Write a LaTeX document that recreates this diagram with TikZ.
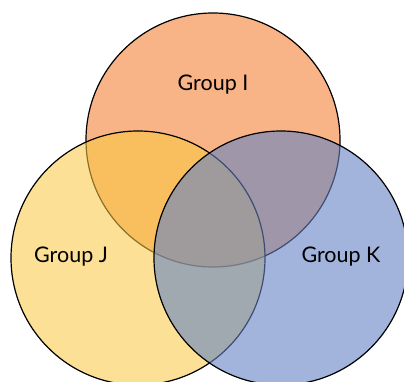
\documentclass[tikz,border=0pt]{standalone}
\usepackage{fontspec}
\setmainfont{Lato}
\definecolor{grpI}{RGB}{248,180,134}
\definecolor{grpJ}{RGB}{250,200,66}
\definecolor{grpK}{RGB}{100,130,195}
\begin{document}
\begin{tikzpicture}[x=1pt, y=1pt, every node/.style={font=\fontsize{21.5}{25}\selectfont}]
  \tikzstyle{set}=[draw,circle,line width=1.2pt,minimum size=254pt,inner sep=0pt]
  \useasboundingbox (0,0) rectangle (404,382);
  \clip (0,0) rectangle (404,382);
  \node[set,fill=grpI] (gi) at (213,242) {};
  \node[set,fill=grpJ,fill opacity=0.56] (gj) at (138,124) {};
  \node[set,fill=grpK,fill opacity=0.6] (gk) at (281,124) {};
  \node (li) at (213,297) {Group I};
  \node (lj) at (71,125) {Group J};
  \node (lk) at (341,125) {Group K};
\end{tikzpicture}
\end{document}
